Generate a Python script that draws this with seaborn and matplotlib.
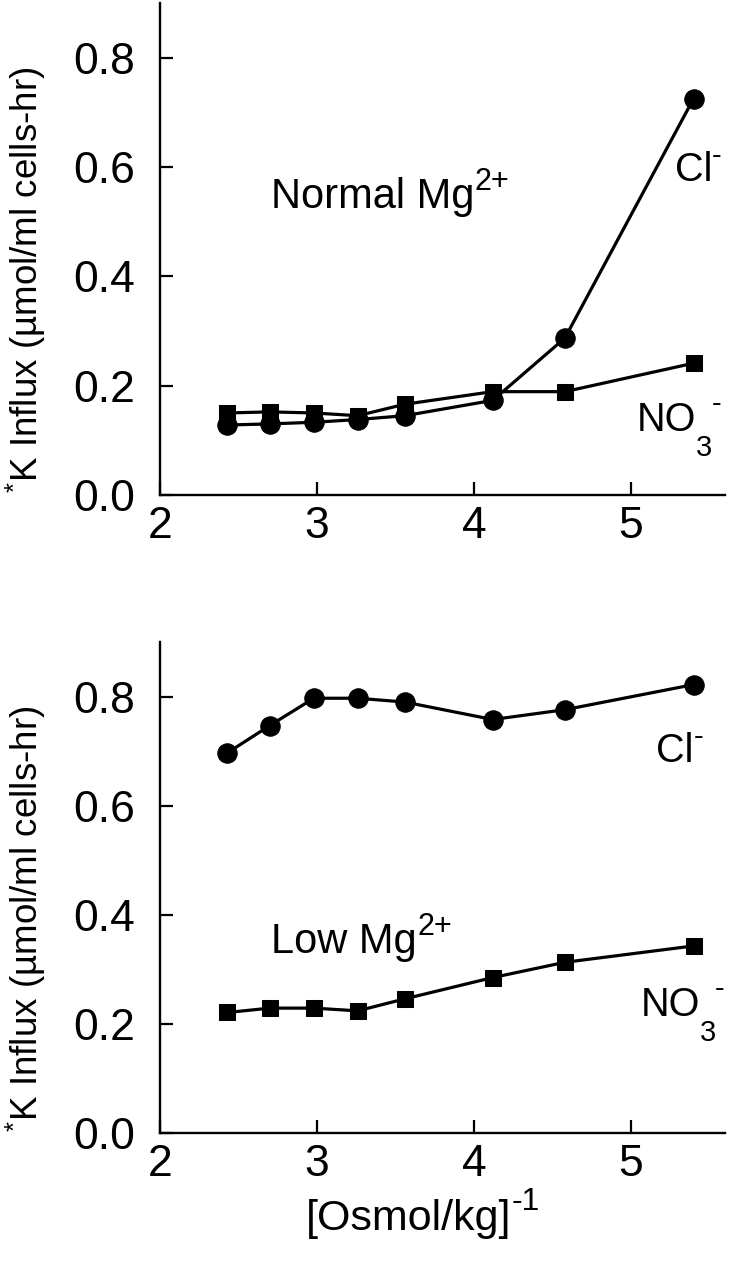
import matplotlib
matplotlib.use("Agg")
import matplotlib.pyplot as plt
import seaborn as sns
import pandas as pd

# reciprocal osmolality, (Osmol/kg)^-1
osm_inv = [2.43, 2.70, 2.98, 3.26, 3.56, 4.12, 4.58, 5.40]

# normal Mg2+ panel
normal_cl = [0.128, 0.130, 0.133, 0.138, 0.145, 0.173, 0.287, 0.725]
normal_no3 = [0.150, 0.152, 0.150, 0.145, 0.166, 0.189, 0.189, 0.241]

# low Mg2+ panel
low_cl = [0.697, 0.747, 0.797, 0.797, 0.790, 0.758, 0.776, 0.822]
low_no3 = [0.221, 0.229, 0.229, 0.224, 0.246, 0.285, 0.313, 0.343]

sns.set_style("ticks")
plt.rcParams["font.family"] = ["Liberation Sans", "DejaVu Sans"]
plt.rcParams["mathtext.fontset"] = "custom"
plt.rcParams["mathtext.rm"] = "Liberation Sans"
plt.rcParams["mathtext.it"] = "Liberation Sans"
plt.rcParams["mathtext.default"] = "regular"
plt.rcParams["text.color"] = "black"
plt.rcParams["axes.labelcolor"] = "black"

fig = plt.figure(figsize=(7.39, 12.8), dpi=100)
ax1 = fig.add_axes([0.2165, 0.6133, 0.7645, 0.3844])
ax2 = fig.add_axes([0.2165, 0.1148, 0.7645, 0.3836])

FS = 28.5
FS_MG = 30


def sup(ax, base, s, size=21, y=0.5):
    return ax.annotate(s, xy=(1.0, y), xycoords=base, ha="left", va="bottom",
                       fontsize=size)


def draw_panel(ax, cl, no3, label, label_y, cl_pos, no3_pos):
    df = pd.DataFrame({"x": osm_inv, "cl": cl, "no3": no3})
    sns.lineplot(data=df, x="x", y="no3", ax=ax, color="black", linewidth=2.3,
                 marker="s", markersize=12, markeredgecolor="black")
    sns.lineplot(data=df, x="x", y="cl", ax=ax, color="black", linewidth=2.3,
                 marker="o", markersize=14, markeredgecolor="black")
    ax.set_xlim(2.0, 5.6)
    ax.set_ylim(0, 0.9)
    ax.set_xticks([2, 3, 4, 5])
    ax.set_yticks([0.0, 0.2, 0.4, 0.6, 0.8])
    ax.set_yticklabels(["0.0", "0.2", "0.4", "0.6", "0.8"])
    ax.tick_params(axis="both", direction="in", length=9.5, width=1.6,
                   labelsize=32, colors="black")
    ax.tick_params(axis="y", pad=18)
    ax.tick_params(axis="x", pad=8)
    sns.despine(ax=ax)
    for s in ["left", "bottom"]:
        ax.spines[s].set_linewidth(1.7)
        ax.spines[s].set_color("black")
    ax.set_ylabel(r"$^{*}$K Influx (µmol/ml cells-hr)", fontsize=26.5)
    ax.yaxis.set_label_coords(-0.198, 0.437)
    ax.set_xlabel("")

    t = ax.text(2.71, label_y, label, fontsize=FS_MG, va="center", ha="left")
    sup(ax, t, "2+", size=22)

    t = ax.text(cl_pos[0], cl_pos[1], "Cl", fontsize=FS, va="center", ha="left")
    sup(ax, t, "-")

    t = ax.text(no3_pos[0], no3_pos[1], "NO", fontsize=FS, va="center",
                ha="left")
    t3 = ax.annotate("3", xy=(0.99, 0.12), xycoords=t, ha="left", va="top",
                     fontsize=21)
    ax.annotate("-", xy=(0.95, 0.55), xycoords=(t3, t), ha="left",
                va="bottom", fontsize=21)


draw_panel(ax1, normal_cl, normal_no3, "Normal Mg", 0.545,
           (5.28, 0.595), (5.04, 0.138))
draw_panel(ax2, low_cl, low_no3, "Low Mg", 0.35,
           (5.16, 0.70), (5.065, 0.235))

xl = ax2.set_xlabel("[Osmol/kg]", fontsize=31, labelpad=6)
ax2.xaxis.set_label_coords(0.44, -0.135)
ax2.annotate("-1", xy=(1.0, 0.55), xycoords=xl, ha="left", va="bottom",
             fontsize=23)

fig.savefig("out.png", dpi=100)
